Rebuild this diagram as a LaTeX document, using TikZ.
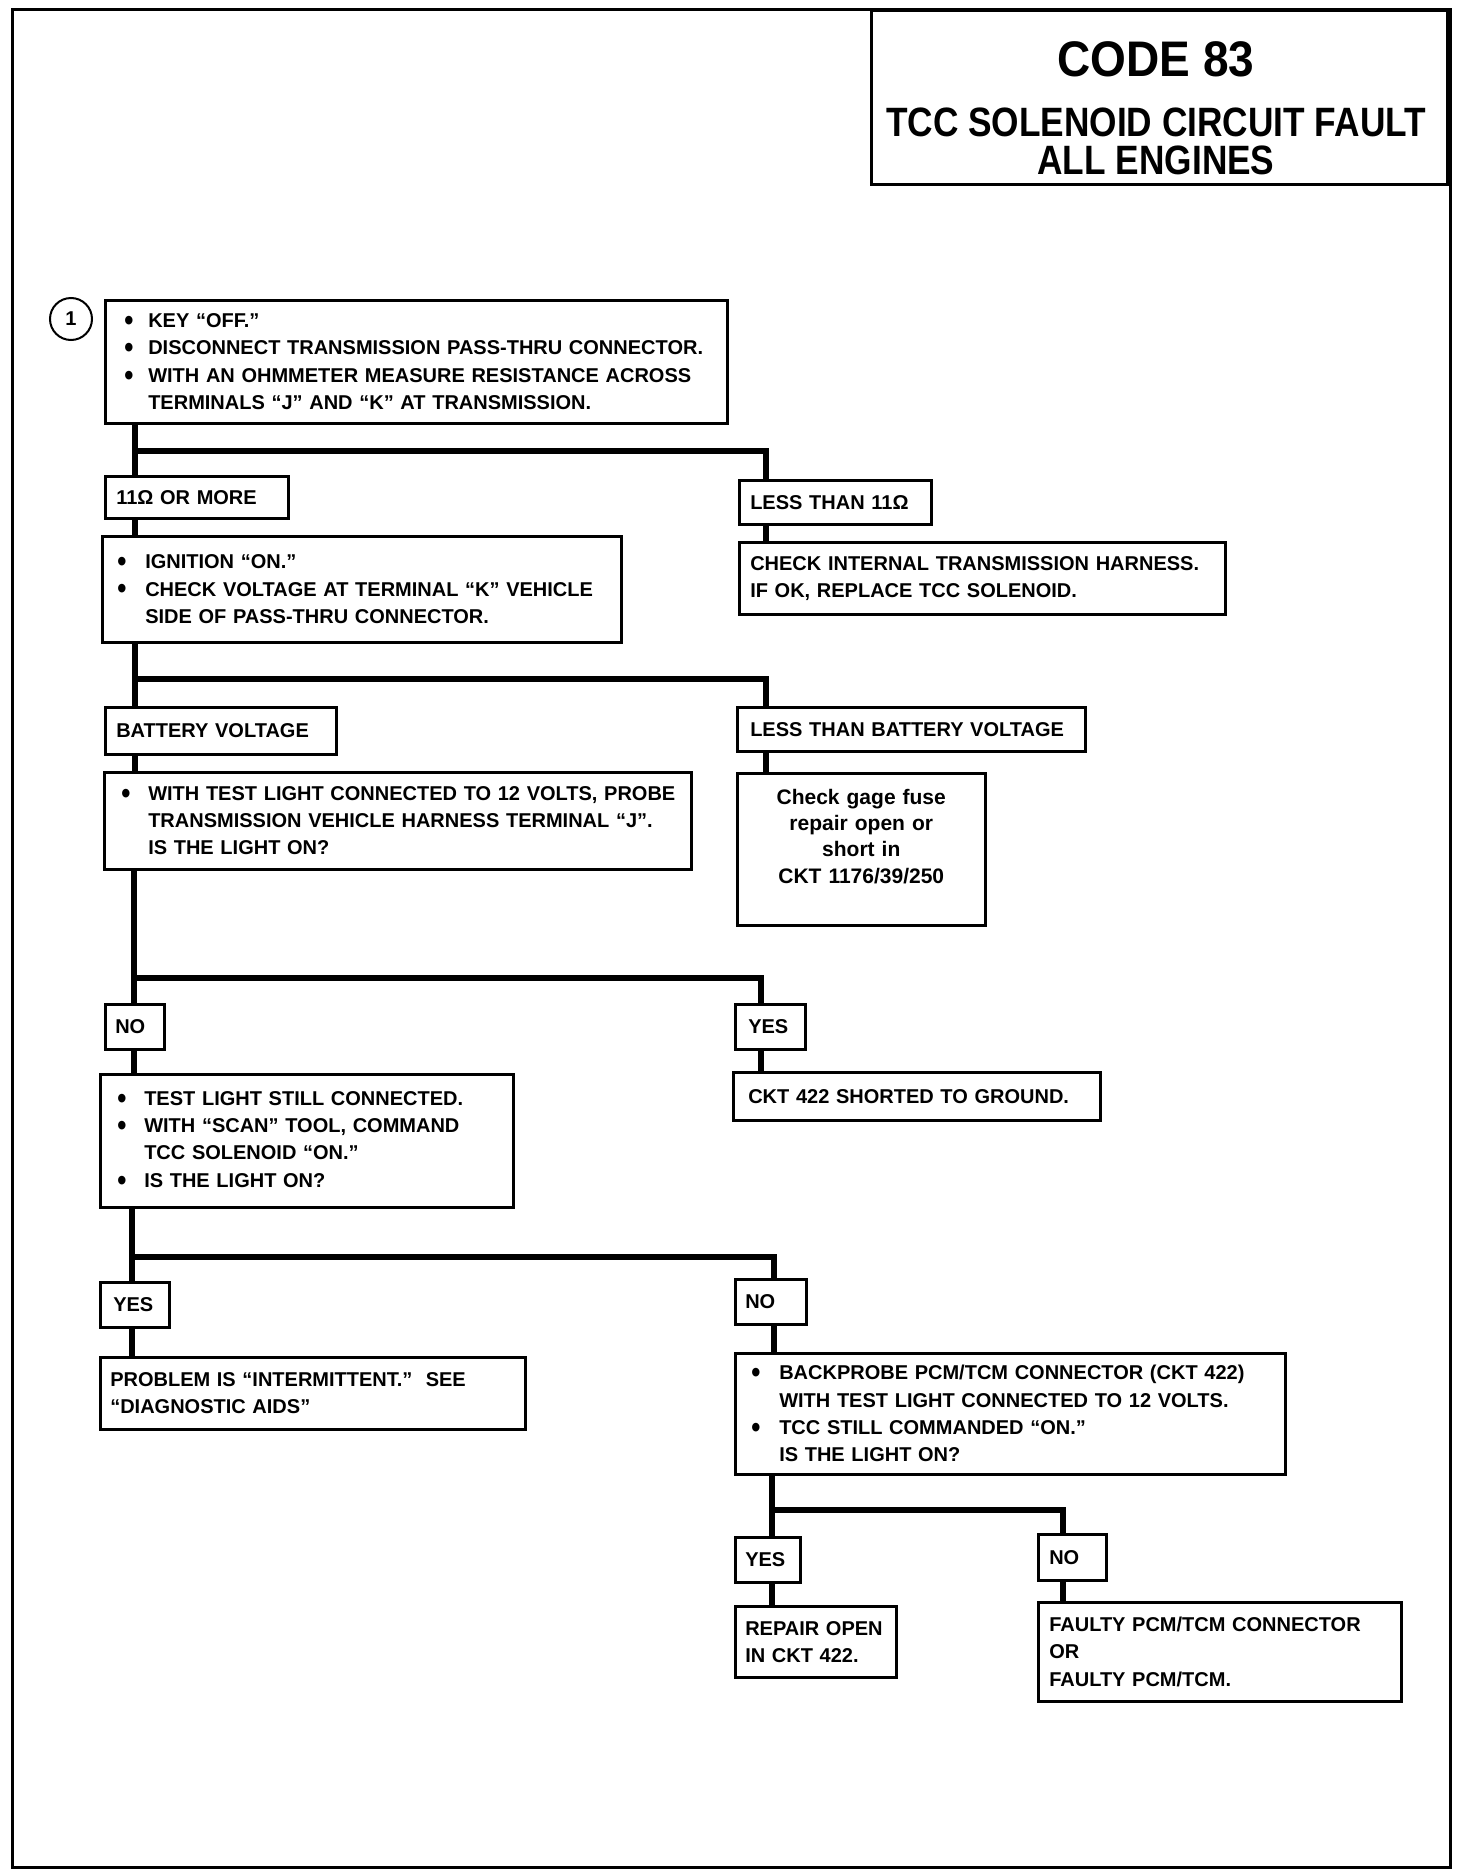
\documentclass[tikz,border=0pt]{standalone}
\usepackage{fontspec}
\setmainfont{Liberation Sans}
\usepackage{graphicx}
\newcommand{\bdot}{\raisebox{-2.8pt}{\scalebox{1.3}[1.5]{\textbullet}}}
\newcommand{\bu}[1][24pt]{\makebox[#1][l]{\bdot}}
\newcommand{\ind}[1][24pt]{\hspace*{#1}}
\begin{document}
\begin{tikzpicture}[x=1pt,y=-1pt,
  box/.style={draw, line width=2.5pt, anchor=north west, align=left, inner ysep=0pt,
    font=\bfseries\fontsize{20}{27.3}\selectfont},
  conn/.style={line width=6pt},
  ttl/.style={anchor=base, inner sep=0pt, font=\bfseries}]
\useasboundingbox (0,0) rectangle (1472,1876);
\draw[line width=3pt] (12,10) rectangle (1450,1867);

% title
\node[draw, line width=2.5pt, anchor=north west, minimum width=576pt, minimum height=173pt, inner sep=0pt] (title) at (870,10) {};
\node[ttl] (t1) at (1156,77) {\scalebox{0.92}[1]{\fontsize{50}{50}\selectfont CODE 83}};
\node[ttl] (t2) at (1156,136) {\scalebox{0.86}[1]{\fontsize{41}{41}\selectfont TCC SOLENOID CIRCUIT FAULT}};
\node[ttl] (t3) at (1156,174) {\scalebox{0.86}[1]{\fontsize{41}{41}\selectfont ALL ENGINES}};

% step number
\node[circle, draw, line width=2pt, minimum size=42pt, inner sep=0pt, font=\bfseries\fontsize{20}{20}\selectfont] (c1) at (71,319) {1};

% boxes
\node[box, minimum width=622pt, minimum height=123pt, text width=584pt, inner xsep=19pt] (b1) at (104,299)
 {\mbox{\bu KEY “OFF.”}\\ \mbox{\bu DISCONNECT TRANSMISSION PASS-THRU CONNECTOR.}\\ \mbox{\bu WITH AN OHMMETER MEASURE RESISTANCE ACROSS}\\ \mbox{\ind TERMINALS “J” AND “K” AT TRANSMISSION.}};

\node[box, minimum width=183pt, minimum height=42pt, text width=161pt, inner xsep=11pt] (L11) at (104,475) {11Ω OR MORE};
\node[box, minimum width=192pt, minimum height=44pt, text width=170pt, inner xsep=11pt] (LT11) at (738,479) {LESS THAN 11Ω};

\node[box, minimum width=519pt, minimum height=106pt, text width=489pt, inner xsep=15pt] (b2) at (101,535)
 {\mbox{\bu[28pt]IGNITION “ON.”}\\ \mbox{\bu[28pt]CHECK VOLTAGE AT TERMINAL “K” VEHICLE}\\ \mbox{\ind[28pt]SIDE OF PASS-THRU CONNECTOR.}};
\node[box, minimum width=486pt, minimum height=72pt, text width=464pt, inner xsep=11pt] (chk) at (738,541)
 {\mbox{CHECK INTERNAL TRANSMISSION HARNESS.}\\ \mbox{IF OK, REPLACE TCC SOLENOID.}};

\node[box, minimum width=231pt, minimum height=47pt, text width=209pt, inner xsep=11pt] (batt) at (104,706) {\mbox{BATTERY VOLTAGE}};
\node[box, minimum width=348pt, minimum height=44pt, text width=322pt, inner xsep=13pt] (ltb) at (736,706) {\mbox{LESS THAN BATTERY VOLTAGE}};

\node[box, minimum width=587pt, minimum height=97pt, text width=553pt, inner xsep=17pt] (b3) at (103,771)
 {\mbox{\bu[27pt]WITH TEST LIGHT CONNECTED TO 12 VOLTS, PROBE}\\ \mbox{\ind[27pt]TRANSMISSION VEHICLE HARNESS TERMINAL “J”.}\\ \mbox{\ind[27pt]IS THE LIGHT ON?}};
\node[box, align=center, minimum width=248pt, minimum height=152pt, text width=228pt, inner xsep=10pt,
  font=\bfseries\fontsize{21}{26.3}\selectfont] (gage) at (736,772)
 {Check gage fuse\\ repair open or\\ short in\\ CKT 1176/39/250\\ \mbox{}};

\node[box, minimum width=59pt, minimum height=45pt, text width=39pt, inner xsep=10pt] (no1) at (104,1003) {NO};
\node[box, minimum width=70pt, minimum height=45pt, text width=44pt, inner xsep=13pt] (yes1) at (734,1003) {YES};

\node[box, minimum width=413pt, minimum height=133pt, text width=379pt, inner xsep=17pt] (b4) at (99,1073)
 {\mbox{\bu[27pt]TEST LIGHT STILL CONNECTED.}\\ \mbox{\bu[27pt]WITH “SCAN” TOOL, COMMAND}\\ \mbox{\ind[27pt]TCC SOLENOID “ON.”}\\ \mbox{\bu[27pt]IS THE LIGHT ON?}};
\node[box, minimum width=367pt, minimum height=48pt, text width=337pt, inner xsep=15pt] (ckt) at (732,1071) {\mbox{CKT 422 SHORTED TO GROUND.}};

\node[box, minimum width=69pt, minimum height=45pt, text width=43pt, inner xsep=13pt] (yes2) at (99,1281) {YES};
\node[box, minimum width=71pt, minimum height=45pt, text width=51pt, inner xsep=10pt] (no2) at (734,1278) {NO};

\node[box, minimum width=425pt, minimum height=72pt, text width=405pt, inner xsep=10pt] (prob) at (99,1356)
 {\mbox{PROBLEM IS “INTERMITTENT.”\ \ SEE}\\ \mbox{“DIAGNOSTIC AIDS”}};
\node[box, minimum width=550pt, minimum height=121pt, text width=518pt, inner xsep=16pt] (back) at (734,1352)
 {\mbox{\bu[28pt]BACKPROBE PCM/TCM CONNECTOR (CKT 422)}\\ \mbox{\ind[28pt]WITH TEST LIGHT CONNECTED TO 12 VOLTS.}\\ \mbox{\bu[28pt]TCC STILL COMMANDED “ON.”}\\ \mbox{\ind[28pt]IS THE LIGHT ON?}};

\node[box, minimum width=65pt, minimum height=45pt, text width=45pt, inner xsep=10pt] (yes3) at (734,1536) {YES};
\node[box, minimum width=68pt, minimum height=46pt, text width=46pt, inner xsep=11pt] (no3) at (1037,1533) {NO};

\node[box, minimum width=161pt, minimum height=71pt, text width=141pt, inner xsep=10pt] (rep) at (734,1605)
 {\mbox{REPAIR OPEN}\\ \mbox{IN CKT 422.}};
\node[box, minimum width=363pt, minimum height=99pt, text width=341pt, inner xsep=11pt] (faulty) at (1037,1601)
 {\mbox{FAULTY PCM/TCM CONNECTOR}\\ OR\\ \mbox{FAULTY PCM/TCM.}};

% connectors
\coordinate (j1) at (135,451); \coordinate (k1) at (766,451);
\draw[conn] (b1.south -| j1) -- (L11.north -| j1);
\draw[conn] (j1) -- (k1) -- (LT11.north -| k1);
\draw[conn] (L11.south -| j1) -- (b2.north -| j1);
\draw[conn] (LT11.south -| k1) -- (chk.north -| k1);

\coordinate (j2) at (135,679); \coordinate (k2) at (766,679);
\draw[conn] (b2.south -| j2) -- (batt.north -| j2);
\draw[conn] (j2) -- (k2) -- (ltb.north -| k2);
\draw[conn] (batt.south -| j2) -- (b3.north -| j2);
\draw[conn] (ltb.south -| k2) -- (gage.north -| k2);

\coordinate (j3) at (134,978); \coordinate (k3) at (761,978);
\draw[conn] (b3.south -| j3) -- (no1.north -| j3);
\draw[conn] (j3) -- (k3) -- (yes1.north -| k3);
\draw[conn] (no1.south -| j3) -- (b4.north -| j3);
\draw[conn] (yes1.south -| k3) -- (ckt.north -| k3);

\coordinate (j4) at (132,1257); \coordinate (k4) at (774,1257);
\draw[conn] (b4.south -| j4) -- (yes2.north -| j4);
\draw[conn] (j4) -- (k4) -- (no2.north -| k4);
\draw[conn] (yes2.south -| j4) -- (prob.north -| j4);
\draw[conn] (no2.south -| k4) -- (back.north -| k4);

\coordinate (j5) at (772,1510); \coordinate (k5) at (1063,1510);
\draw[conn] (back.south -| j5) -- (yes3.north -| j5);
\draw[conn] (j5) -- (k5) -- (no3.north -| k5);
\draw[conn] (yes3.south -| j5) -- (rep.north -| j5);
\draw[conn] (no3.south -| k5) -- (faulty.north -| k5);
\end{tikzpicture}
\end{document}
